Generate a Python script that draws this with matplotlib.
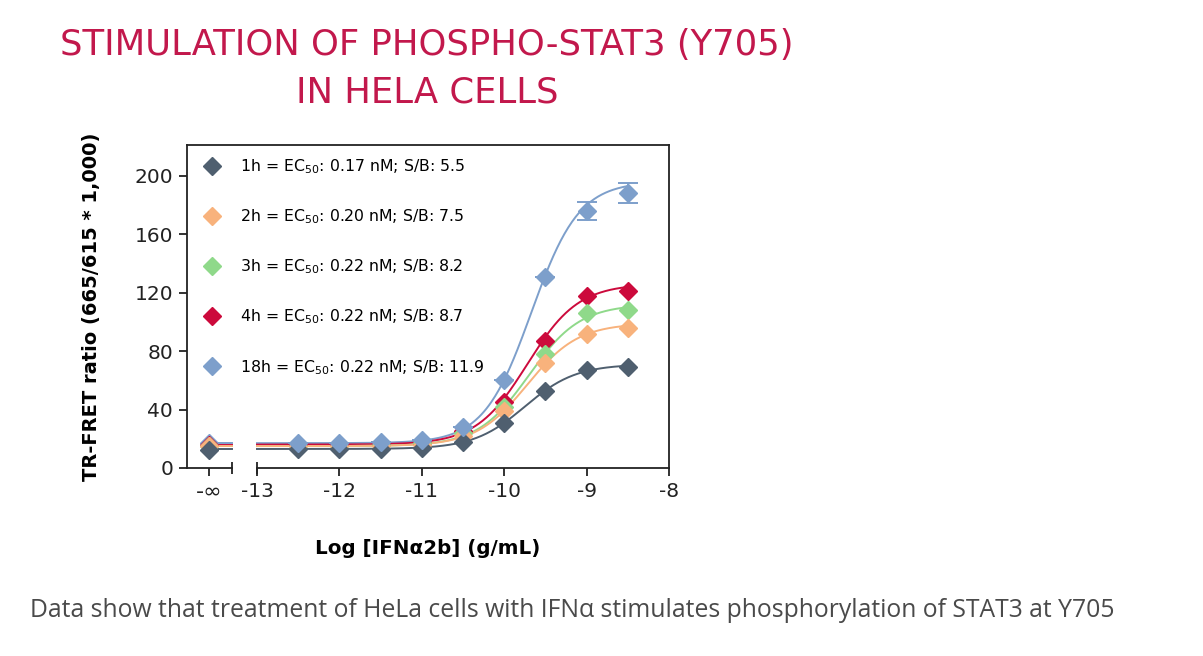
import numpy as np
import matplotlib
matplotlib.use('Agg')
import matplotlib.pyplot as plt
from matplotlib.lines import Line2D

plt.rcParams['font.family'] = ['DejaVu Sans']

# doses, log [IFNa2b] (g/mL); first point is the zero-dose control (-inf)
log_dose = [-12.5, -12.0, -11.5, -11.0, -10.5, -10.0, -9.5, -9.0, -8.5]
labels = ['1h = EC$_{50}$: 0.17 nM; S/B: 5.5',
          '2h = EC$_{50}$: 0.20 nM; S/B: 7.5',
          '3h = EC$_{50}$: 0.22 nM; S/B: 8.2',
          '4h = EC$_{50}$: 0.22 nM; S/B: 8.7',
          '18h = EC$_{50}$: 0.22 nM; S/B: 11.9']
colors = ['#4f5f6f', '#f8b27c', '#8fd98a', '#cc0a3c', '#7d9fcb']

ctrl_1h = 12
ctrl_2h = 15
ctrl_3h = 15
ctrl_4h = 16
ctrl_18h = 17
vals_1h = [13, 13, 13, 13.5, 18, 31, 53, 67, 69]
vals_2h = [15, 15, 15, 16, 22, 39, 72, 92, 96]
vals_3h = [15, 15, 16, 17, 24, 42, 78, 106, 108]
vals_4h = [16, 16, 16, 17, 25, 45, 87, 118, 121]
vals_18h = [17, 17, 18, 19, 28, 60, 131, 176, 188]
err_18h = [0, 0, 0, 0, 0, 0, 0, 6, 7]

# 4PL fit parameters: bottom, top, logEC50, hill
fit_1h = [13, 71, -9.75, 1.4]
fit_2h = [15, 99, -9.72, 1.4]
fit_3h = [15, 112, -9.70, 1.4]
fit_4h = [16, 126, -9.72, 1.4]
fit_18h = [17, 196, -9.67, 1.5]

xticks = [-13, -12, -11, -10, -9, -8]
yticks = [0, 40, 80, 120, 160, 200]

ctrls = [ctrl_1h, ctrl_2h, ctrl_3h, ctrl_4h, ctrl_18h]
vals = [vals_1h, vals_2h, vals_3h, vals_4h, vals_18h]
fits = [fit_1h, fit_2h, fit_3h, fit_4h, fit_18h]
errs = [None, None, None, None, err_18h]

X_INF = -13.58      # where the -inf control sits
BRK = -13.30        # end of the left axis piece
X0 = -13.85


def four_pl(x, p):
    bot, top, lec, h = p
    return bot + (top - bot) / (1 + 10 ** ((lec - x) * h))


fig = plt.figure(figsize=(12.03, 6.56), dpi=100)
ax = fig.add_axes([0.1554, 0.2866, 0.4007, 0.4924])

xx = np.linspace(-13, -8.5, 300)
for i in [4, 3, 2, 1, 0]:
    c = colors[i]
    ax.plot(xx, four_pl(xx, fits[i]), color=c, lw=1.4, zorder=2)
    ax.plot([X_INF, BRK], [fits[i][0], fits[i][0]], color=c, lw=1.4, zorder=2)
    ax.plot([X_INF], [ctrls[i]], 'D', color=c, ms=9.5, zorder=3)
    if errs[i] is not None:
        ax.errorbar(log_dose, vals[i], yerr=errs[i], fmt='D', color=c, ms=9.5,
                    capsize=7, elinewidth=1.4, capthick=1.4, zorder=3)
    else:
        ax.plot(log_dose, vals[i], 'D', color=c, ms=9.5, zorder=3)

ax.set_xlim(X0, -8.0)
ax.set_ylim(0, 221)

# broken bottom axis
ax.spines['bottom'].set_visible(False)
for s in ['left', 'top', 'right']:
    ax.spines[s].set_linewidth(1.3)
    ax.spines[s].set_color('#222222')
ax.plot([X0, BRK], [0, 0], color='#222222', lw=1.3, clip_on=False)
ax.plot([-13, -8], [0, 0], color='#222222', lw=1.3, clip_on=False)
ax.plot([BRK, -13], [0, 0], '|', color='#222222', ms=9, mew=1.3, clip_on=False)

ax.set_xticks([X_INF] + xticks)
ax.set_xticklabels(['-\u221e'] + [str(t) for t in xticks])
ax.set_yticks(yticks)
ax.set_yticklabels([str(t) for t in yticks])
ax.tick_params(axis='both', direction='out', length=6, width=1.3,
               color='#222222', labelsize=14.5, labelcolor='#222222', pad=4)
ax.get_xticklabels()[0].set_fontsize(16)

ax.set_ylabel('TR-FRET ratio (665/615 * 1,000)', fontsize=14, fontweight='bold',
              labelpad=24)
ax.set_xlabel('Log [IFN\u03b12b] (g/mL)', fontsize=14.3, fontweight='bold',
              labelpad=27)

handles = [Line2D([], [], ls='', marker='D', color=c, ms=9.5) for c in colors]
ax.legend(handles, labels, loc='upper left', frameon=False, fontsize=11.3,
          labelspacing=2.0, handletextpad=1.0, handlelength=1.6,
          bbox_to_anchor=(0.0, 1.0), borderaxespad=0.4, borderpad=0.4)

fig.text(0.355, 0.895, 'STIMULATION OF PHOSPHO-STAT3 (Y705)\nIN HELA CELLS',
         ha='center', va='center', fontsize=25.5, color='#c2184c',
         linespacing=1.5)
fig.text(0.025, 0.07, 'Data show that treatment of HeLa cells with IFN\u03b1 '
         'stimulates phosphorylation of STAT3 at Y705',
         ha='left', va='center', fontsize=17.8, color='#4a4a4a',
         family=['Open Sans', 'DejaVu Sans'])

fig.savefig('out.png', dpi=100)
